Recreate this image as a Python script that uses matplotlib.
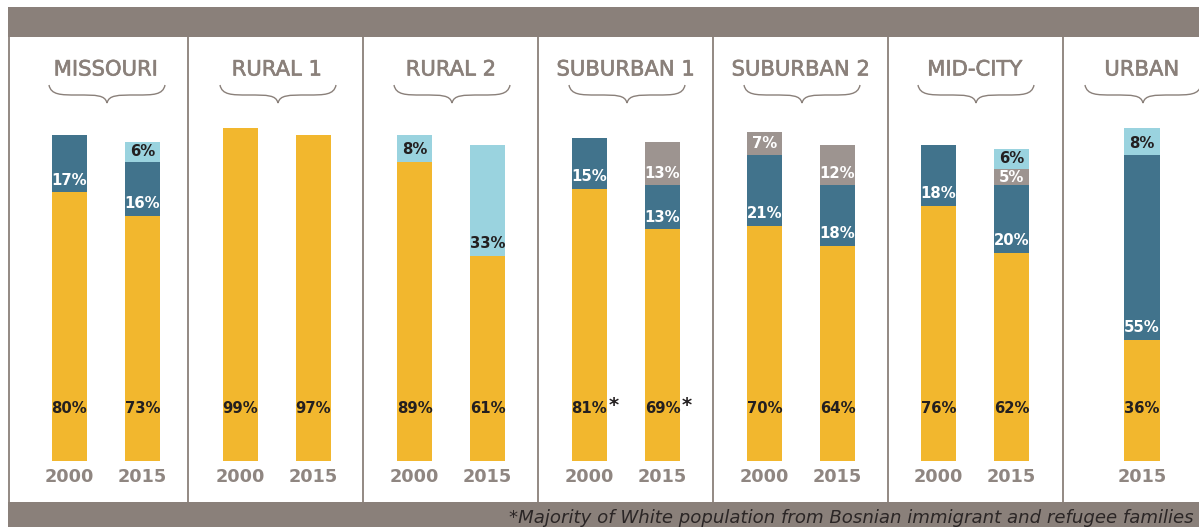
import numpy as np
import matplotlib.pyplot as plt
import matplotlib.patheffects as pe
from matplotlib.path import Path
from matplotlib.patches import PathPatch, Rectangle

# regions and bars
regions = ['MISSOURI', 'RURAL 1', 'RURAL 2', 'SUBURBAN 1', 'SUBURBAN 2', 'MID-CITY', 'URBAN']
bar_region = [0, 0, 1, 1, 2, 2, 3, 3, 4, 4, 5, 5, 6]
bar_year = ['2000', '2015', '2000', '2015', '2000', '2015', '2000', '2015',
            '2000', '2015', '2000', '2015', '2015']

# share of population (%) per segment, bottom to top
white = [80, 73, 99, 97, 89, 61, 81, 69, 70, 64, 76, 62, 36]
black = [17, 16, 0, 0, 0, 0, 15, 13, 21, 18, 18, 20, 55]
other = [0, 0, 0, 0, 0, 0, 0, 13, 7, 12, 0, 5, 0]
hispanic = [0, 6, 0, 0, 8, 33, 0, 0, 0, 0, 0, 6, 8]
starred = [0, 0, 0, 0, 0, 0, 1, 1, 0, 0, 0, 0, 0]

# layout (pixels)
W, H = 1199, 527
panel_centers = [106, 277, 451, 626, 801, 975, 1142]
separators = [9, 188, 363, 538, 713, 888, 1063]
px_per_unit = 73
bar_bottom, bar_top = 461, 125

yellow = '#F2B72E'
teal = '#41738C'
lightblue = '#9AD3DF'
grey = '#9D9490'
frame = '#8A807A'
dark = '#231F20'
font = 'DejaVu Sans'

fig = plt.figure(figsize=(W / 100, H / 100), dpi=100)
fig.patch.set_facecolor('white')

# decorations overlay in pixel space
deco = fig.add_axes([0, 0, 1, 1])
deco.set_xlim(0, W)
deco.set_ylim(H, 0)
deco.axis('off')
deco.add_patch(Rectangle((8, 7), W, 30, color=frame, lw=0))
deco.add_patch(Rectangle((8, 502), W, 30, color=frame, lw=0))
for sx in separators:
    deco.plot([sx, sx], [37, 502], color=frame, lw=1.3, solid_capstyle='butt')

deco.text(509, 518, '*Majority of White population from Bosnian immigrant and refugee families',
          fontsize=13.1, style='italic', color='#2B2626', va='center', ha='left', family=font)


def brace(cx, y0=85, ym=95, yt=103, hw=58):
    verts = [(cx - hw, y0),
             (cx - hw + 2, ym), (cx - hw + 12, ym), (cx - 30, ym),
             (cx - 10, ym), (cx - 2, ym), (cx, yt),
             (cx + 2, ym), (cx + 10, ym), (cx + 30, ym),
             (cx + hw - 12, ym), (cx + hw - 2, ym), (cx + hw, y0)]
    codes = [Path.MOVETO] + [Path.CURVE4] * 12
    return PathPatch(Path(verts, codes), fill=False, ec=frame, lw=1.0)


thick = [pe.withStroke(linewidth=0.45, foreground=frame)]
for r, name in enumerate(regions):
    cx = panel_centers[r]
    deco.text(cx, 69.5, name, ha='center', va='center', fontsize=15.2, color=frame,
              family=font, path_effects=thick)
    deco.add_patch(brace(cx + 1))

# one axes per region
for r, name in enumerate(regions):
    idx = [i for i in range(len(bar_region)) if bar_region[i] == r]
    cx = panel_centers[r]
    half = 110
    ax = fig.add_axes([(cx - half) / W, (H - bar_bottom) / H,
                       2 * half / W, (bar_bottom - bar_top) / H])
    ax.patch.set_alpha(0)
    span = half / px_per_unit
    ax.set_xlim(0.5 - span, 0.5 + span)
    ax.set_ylim(0, 100)
    if len(idx) == 1:
        xs = [0.5]
    else:
        xs = [0, 1]
    w = 0.48
    for x, i in zip(xs, idx):
        segs = [(white[i], yellow, dark), (black[i], teal, 'white'),
                (other[i], grey, 'white'), (hispanic[i], lightblue, dark)]
        base = 0
        for k, (v, col, tc) in enumerate(segs):
            if v == 0:
                continue
            ax.bar(x, v, width=w, bottom=base, color=col, lw=0)
            if k == 0:
                ly = 15.5
            else:
                ly = base + min(3.6, v / 2)
            ax.text(x, ly, f'{v}%', ha='center', va='center', fontsize=10.7,
                    fontweight='bold', color=tc, family=font)
            base += v
        if starred[i]:
            ax.text(x + w / 2 + 0.02, 16.5, '*', ha='left', va='center', fontsize=14,
                    fontweight='bold', color=dark, family=font)
    ax.set_xticks(xs, [bar_year[i] for i in idx])
    ax.tick_params(axis='x', length=0, pad=5, labelsize=12.7, labelcolor='#8F8681')
    for lab in ax.get_xticklabels():
        lab.set_fontweight('bold')
        lab.set_family(font)
    ax.set_yticks([])
    for s in ax.spines.values():
        s.set_visible(False)

fig.savefig('out.png', dpi=100)
